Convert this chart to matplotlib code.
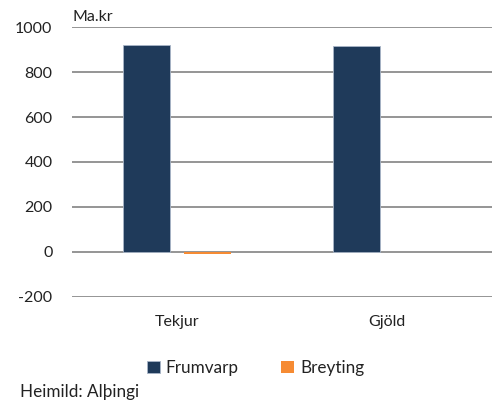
import matplotlib.pyplot as plt
import numpy as np

plt.rcParams['font.family'] = ['Lato', 'DejaVu Sans']

flokkar = ['Tekjur', 'Gjöld']
frumvarp = [919, 916]
breyting = [-9, 0]
yticks = [-200, 0, 200, 400, 600, 800, 1000]

fig = plt.figure(figsize=(4.99, 4.03), dpi=100)
ax = fig.add_axes([72/499, 0.2638, 420/499, 0.6685])

x = np.arange(len(flokkar))
w = 0.224
ax.bar(x - 0.143, frumvarp, w, color='#1F3A5A', edgecolor='#A9B6C8', lw=0.6,
       label='Frumvarp', zorder=3)
ax.bar(x + 0.143, breyting, w, color='#F68B33', edgecolor='none', lw=0,
       label='Breyting', zorder=3)

ax.set_xlim(-0.5, 1.5)
ax.set_ylim(-200, 1000)
ax.set_yticks(yticks)
ax.set_yticklabels([str(v) for v in yticks])
ax.set_xticks(x)
ax.set_xticklabels(flokkar)
ax.grid(axis='y', color='#8C8C8C', lw=1.3, zorder=1)
for s in ax.spines.values():
    s.set_visible(False)
ax.tick_params(axis='y', length=0, pad=14, labelsize=11.5, labelcolor='#222222')
ax.tick_params(axis='x', length=0, pad=13, labelsize=11.5, labelcolor='#222222')

ax.text(0, 1.012, 'Ma.kr', transform=ax.transAxes, fontsize=11.5,
        color='#222222', ha='left', va='bottom')

fig.legend(loc='center', bbox_to_anchor=(0.512, 1 - 368/403), ncol=2, frameon=False,
           fontsize=12.3, handlelength=0.75, handleheight=0.75, handletextpad=0.35,
           columnspacing=2.5, labelcolor='#222222')
fig.text(20/499, 1 - 392/403, 'Heimild: Alþingi', fontsize=12.3, color='#222222',
         ha='left', va='center')

plt.savefig('out.png', dpi=100)
